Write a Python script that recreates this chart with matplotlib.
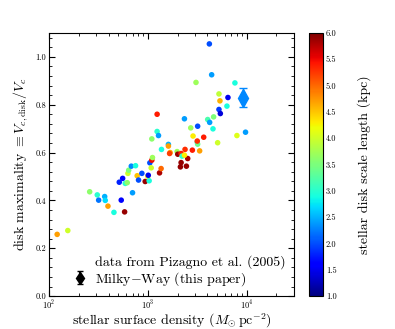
import numpy as np
import matplotlib
matplotlib.use('Agg')
import matplotlib.pyplot as plt
from matplotlib.ticker import MultipleLocator, LogLocator

plt.rcParams['font.family'] = 'serif'
plt.rcParams['font.serif'] = ['cmr10', 'DejaVu Serif']
plt.rcParams['mathtext.fontset'] = 'cm'
plt.rcParams['axes.formatter.use_mathtext'] = True

# Pizagno et al. (2005) sample: surface density, disk maximality, scale length (kpc)
sigma = [121, 155, 258, 308, 318, 366, 371, 395, 454, 538, 582, 514, 556, 591, 619,
         629, 640, 680, 751, 700, 780, 805, 870, 940, 1000, 1010, 1031, 1048, 1097,
         1081, 1114, 1097, 1241, 1241, 1282, 1313, 1362, 1374, 1614, 1614, 1680, 1660,
         1977, 2008, 2170, 2220, 2378, 2170, 2134, 2455, 2530, 2345, 2345, 2716, 2865,
         2820, 3069, 3190, 3160, 3190, 3160, 3342, 3673, 4030, 4220, 4560, 4625, 4190,
         4420, 5080, 5240, 5360, 5240, 5410, 6460, 6310, 7600, 7960, 9730]
maximality = [0.258, 0.274, 0.436, 0.423, 0.401, 0.416, 0.400, 0.376, 0.350, 0.401,
              0.352, 0.476, 0.492, 0.471, 0.474, 0.513, 0.526, 0.543, 0.545, 0.432,
              0.503, 0.485, 0.513, 0.479, 0.501, 0.505, 0.482, 0.557, 0.568, 0.536,
              0.579, 0.657, 0.760, 0.688, 0.671, 0.515, 0.533, 0.613, 0.634, 0.627,
              0.600, 0.596, 0.604, 0.593, 0.596, 0.585, 0.613, 0.558, 0.540, 0.543,
              0.575, 0.741, 0.589, 0.703, 0.669, 0.610, 0.893, 0.710, 0.643, 0.635,
              0.648, 0.607, 0.664, 0.738, 0.726, 0.699, 0.749, 1.054, 0.925, 0.641,
              0.845, 0.816, 0.780, 0.763, 0.830, 0.794, 0.891, 0.671, 0.685]
scale_len = [4.7, 4.0, 3.6, 3.0, 2.2, 2.5, 2.7, 4.7, 2.9, 1.6, 5.9, 1.8, 1.6, 3.0, 3.6,
             4.0, 3.5, 2.3, 2.9, 2.4, 4.5, 2.0, 2.0, 5.9, 4.3, 1.5, 2.9, 2.0, 5.5, 4.0,
             3.7, 3.6, 5.4, 3.0, 2.4, 5.8, 5.0, 2.9, 2.5, 4.7, 4.6, 5.2, 3.7, 5.9, 5.4,
             3.0, 5.3, 5.9, 5.9, 5.9, 5.8, 2.4, 4.3, 3.7, 4.3, 5.4, 3.7, 2.0, 3.0, 3.4,
             5.3, 4.7, 5.4, 3.2, 2.4, 2.9, 3.5, 2.0, 2.4, 4.0, 3.9, 4.6, 1.9, 1.4, 1.5,
             2.9, 2.9, 4.1, 2.4]

# Milky Way point
mw_sigma = 9140
mw_max = 0.830
mw_err = 0.041
mw_len = 2.3

fig = plt.figure(figsize=(3.95, 3.29), dpi=100)
ax = fig.add_axes([0.124, 0.100, 0.620, 0.800])
cax = fig.add_axes([0.782, 0.100, 0.036, 0.800])

cmap = plt.get_cmap('jet')
norm = matplotlib.colors.Normalize(vmin=1.0, vmax=6.0)

sc = ax.scatter(sigma, maximality, c=scale_len, cmap=cmap, norm=norm, s=16,
                edgecolors='none', zorder=3)
ax.errorbar([mw_sigma], [mw_max], yerr=[mw_err], fmt='d', ms=9,
            color=cmap(norm(mw_len)), ecolor=cmap(norm(mw_len)), elinewidth=1,
            capsize=3, zorder=4)

# legend entries
h1, = ax.plot([], [], ls='none', label='data from Pizagno et al. (2005)')
h2 = ax.errorbar([np.nan], [np.nan], yerr=[0.04], fmt='d', color='k', ms=6,
                 capsize=2, label=r'Milky$-$Way (this paper)')
ax.legend(handles=[h1, h2], loc='lower right', frameon=False, fontsize=10,
          handlelength=1.0, handletextpad=0.6, borderaxespad=0.2, labelspacing=0.1)

ax.set_xscale('log')
ax.set_xlim(100, 30000)
ax.set_ylim(0, 1.1)
ax.yaxis.set_major_locator(MultipleLocator(0.2))
ax.yaxis.set_minor_locator(MultipleLocator(0.04))
ax.xaxis.set_minor_locator(LogLocator(base=10, subs=np.arange(2, 10)))
ax.yaxis.set_major_formatter(matplotlib.ticker.FormatStrFormatter('%.1f'))
ax.tick_params(which='both', direction='in', top=True, right=True, labelsize=6, pad=2)
ax.tick_params(which='major', length=4)
ax.tick_params(which='minor', length=2)

ax.set_xlabel(r'stellar surface density $(M_{\odot}\,\mathrm{pc}^{-2})$', fontsize=10,
              labelpad=0)
ax.set_ylabel(r'disk maximality $\equiv V_{c,\mathrm{disk}}/V_c$', fontsize=10,
              labelpad=4)

cb = fig.colorbar(sc, cax=cax)
cb.set_ticks(np.arange(1.0, 6.01, 0.5))
cb.ax.yaxis.set_major_formatter(matplotlib.ticker.FormatStrFormatter('%.1f'))
cb.ax.tick_params(labelsize=6, length=0, pad=2)
cb.set_label('stellar disk scale length (kpc)', fontsize=10, labelpad=15)

fig.savefig('out.png', dpi=100)
